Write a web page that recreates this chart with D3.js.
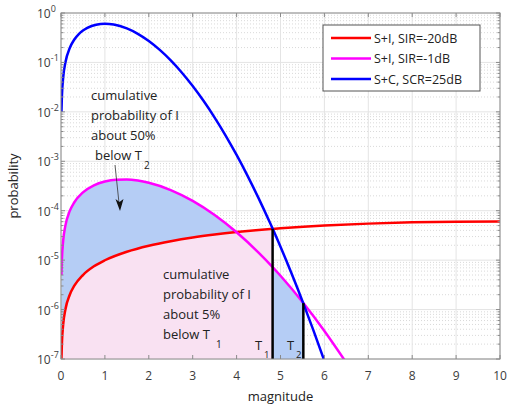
<!DOCTYPE html>
<html>
<head>
<meta charset="utf-8">
<script src="https://cdn.jsdelivr.net/npm/d3@7"></script>
<style>
  body { margin: 0; background: #fff; }
  svg text { font-family: "Open Sans", "Noto Sans", sans-serif; }
</style>
</head>
<body>
<svg id="chart" width="508" height="407"></svg>
<script>
// ---- data -----------------------------------------------------------
const xTicks = [0, 1, 2, 3, 4, 5, 6, 7, 8, 9, 10];
const yExponents = [-7, -6, -5, -4, -3, -2, -1, 0];
const seriesNames = ["S+I, SIR=-20dB", "S+I, SIR=-1dB", "S+C, SCR=25dB"];
const seriesColors = ["#ff0000", "#ff00ff", "#0000ff"];

// S+I, SIR=-20dB
const sir20X = [0.01, 0.02, 0.05, 0.1, 0.2, 0.3, 0.5, 0.75, 1, 1.5, 2, 2.5, 3, 3.5, 4, 4.5, 4.82, 5, 5.52, 6, 7, 8, 9, 10];
const sir20Y = [1e-7, 2e-7, 5e-7, 1e-6, 2e-6, 3e-6, 5e-6, 7.5e-6, 9.95e-6, 1.48e-5, 1.96e-5, 2.42e-5, 2.87e-5, 3.29e-5, 3.69e-5, 4.07e-5, 4.29e-5, 4.41e-5, 4.74e-5, 5.01e-5, 5.48e-5, 5.81e-5, 6.0e-5, 6.07e-5];

// S+I, SIR=-1dB
const sir1X = [0.01, 0.02, 0.05, 0.1, 0.2, 0.3, 0.5, 0.75, 1, 1.25, 1.5, 1.75, 2, 2.5, 3, 3.5, 4, 4.5, 4.82, 5, 5.52, 6, 6.5];
const sir1Y = [5e-6, 1e-5, 2.5e-5, 4.99e-5, 9.9e-5, 1.467e-4, 2.35e-4, 3.26e-4, 3.89e-4, 4.23e-4, 4.27e-4, 4.07e-4, 3.68e-4, 2.62e-4, 1.58e-4, 8.18e-5, 3.66e-5, 1.42e-5, 7.24e-6, 4.83e-6, 1.36e-6, 3.7e-7, 8.4e-8];

// S+C, SCR=25dB
const scrX = [0.01, 0.02, 0.05, 0.1, 0.2, 0.3, 0.4, 0.5, 0.6, 0.8, 1, 1.2, 1.5, 1.75, 2, 2.25, 2.5, 2.75, 3, 3.25, 3.5, 3.75, 4, 4.25, 4.5, 4.75, 4.82, 5, 5.25, 5.52, 5.75, 6];
const scrY = [0.01, 0.02, 0.05, 0.0995, 0.196, 0.287, 0.369, 0.441, 0.501, 0.581, 0.6065, 0.584, 0.487, 0.379, 0.271, 0.179, 0.110, 0.0627, 0.0333, 0.01653, 0.00766, 0.003315, 1.342e-3, 5.08e-4, 1.80e-4, 5.98e-5, 4.35e-5, 1.86e-5, 5.43e-6, 1.336e-6, 3.80e-7, 9.14e-8];

// thresholds and where their markers stop
const T1 = 4.82, T2 = 5.52;
const T1Top = 4.3e-5, T2Top = 1.35e-6;

// ---- layout ---------------------------------------------------------
const svg = d3.select("#chart");
const L = 61, R = 500, T = 13, B = 359;
const x = d3.scaleLinear().domain([0, 10]).range([L, R]);
const y = d3.scaleLog().domain([1e-7, 1]).range([B, T]);

svg.append("defs").append("clipPath").attr("id", "plotClip")
  .append("rect").attr("x", L).attr("y", T).attr("width", R - L).attr("height", B - T);

const plot = svg.append("g");

// grid: minor dotted decades, major solid
const minorVals = [];
yExponents.slice(0, -1).forEach(e => {
  for (let k = 2; k <= 9; k++) minorVals.push(k * Math.pow(10, e));
});
plot.selectAll("line.minor").data(minorVals).join("line")
  .attr("x1", L).attr("x2", R)
  .attr("y1", d => y(d)).attr("y2", d => y(d))
  .attr("stroke", "#cfcfcf").attr("stroke-width", 0.8)
  .attr("stroke-dasharray", "1,2");
plot.selectAll("line.hmajor").data(yExponents).join("line")
  .attr("x1", L).attr("x2", R)
  .attr("y1", d => y(Math.pow(10, d))).attr("y2", d => y(Math.pow(10, d)))
  .attr("stroke", "#e4e4e4").attr("stroke-width", 1);
plot.selectAll("line.vmajor").data(xTicks).join("line")
  .attr("x1", d => x(d)).attr("x2", d => x(d))
  .attr("y1", T).attr("y2", B)
  .attr("stroke", "#e4e4e4").attr("stroke-width", 1);

// shaded regions
const toPts = (xs, ys) => xs.map((v, i) => [v, ys[i]]);
const sir20Pts = toPts(sir20X, sir20Y);
const sir1Pts = toPts(sir1X, sir1Y);
const scrPts = toPts(scrX, scrY);

const area = d3.area()
  .x(d => x(d[0])).y0(B).y1(d => y(d[1]))
  .curve(d3.curveMonotoneX);

const shade = svg.append("g").attr("clip-path", "url(#plotClip)");
shade.append("path")
  .datum(sir1Pts.filter(d => d[0] <= T2))
  .attr("d", area).attr("fill", "#b5cdf5");
shade.append("path")
  .datum(sir20Pts.filter(d => d[0] <= T1))
  .attr("d", area).attr("fill", "#f9e1f2");

// curves
const line = d3.line()
  .x(d => x(d[0])).y(d => y(d[1]))
  .curve(d3.curveMonotoneX);
const curves = svg.append("g").attr("clip-path", "url(#plotClip)");
[sir20Pts, sir1Pts, scrPts].forEach((pts, i) => {
  curves.append("path").datum(pts)
    .attr("d", line)
    .attr("fill", "none")
    .attr("stroke", seriesColors[i])
    .attr("stroke-width", 2.5)
    .attr("stroke-linejoin", "round");
});

// threshold markers
curves.selectAll("line.thr").data([[T1, T1Top], [T2, T2Top]]).join("line")
  .attr("x1", d => x(d[0])).attr("x2", d => x(d[0]))
  .attr("y1", B).attr("y2", d => y(d[1]))
  .attr("stroke", "#000").attr("stroke-width", 2.5);

// ---- axes -----------------------------------------------------------
const axisColor = "#8a8a8a";
const tickColor = "#3c3c3c";
const ax = svg.append("g");

ax.append("rect").attr("x", L).attr("y", T).attr("width", R - L).attr("height", B - T)
  .attr("fill", "none").attr("stroke", axisColor).attr("stroke-width", 1);

// x ticks (inside, bottom and top)
xTicks.forEach(v => {
  ax.append("line").attr("x1", x(v)).attr("x2", x(v)).attr("y1", B).attr("y2", B - 4)
    .attr("stroke", axisColor);
  ax.append("line").attr("x1", x(v)).attr("x2", x(v)).attr("y1", T).attr("y2", T + 4)
    .attr("stroke", axisColor);
});
ax.selectAll("text.xt").data(xTicks).join("text")
  .attr("x", d => x(d)).attr("y", 380)
  .attr("text-anchor", "middle").attr("font-size", 12).attr("fill", tickColor)
  .text(d => d);

// y ticks (major and minor, inside, left and right)
yExponents.forEach(e => {
  const yy = y(Math.pow(10, e));
  ax.append("line").attr("x1", L).attr("x2", L + 4).attr("y1", yy).attr("y2", yy).attr("stroke", axisColor);
  ax.append("line").attr("x1", R).attr("x2", R - 4).attr("y1", yy).attr("y2", yy).attr("stroke", axisColor);
});
minorVals.forEach(v => {
  const yy = y(v);
  ax.append("line").attr("x1", L).attr("x2", L + 2.5).attr("y1", yy).attr("y2", yy).attr("stroke", axisColor);
  ax.append("line").attr("x1", R).attr("x2", R - 2.5).attr("y1", yy).attr("y2", yy).attr("stroke", axisColor);
});
const ytl = ax.selectAll("text.yt").data(yExponents).join("text")
  .attr("x", 37).attr("y", d => y(Math.pow(10, d)) + 5)
  .attr("text-anchor", "start").attr("font-size", 12).attr("fill", tickColor);
ytl.append("tspan").text("10");
ytl.append("tspan").attr("dy", -6).attr("font-size", 9).text(d => d);

// axis titles
svg.append("text").attr("x", x(5)).attr("y", 401)
  .attr("text-anchor", "middle").attr("font-size", 13).attr("fill", "#222")
  .text("magnitude");
svg.append("text").attr("transform", `translate(18,${(T + B) / 2}) rotate(-90)`)
  .attr("text-anchor", "middle").attr("font-size", 13).attr("fill", "#222")
  .text("probability");

// ---- annotations ----------------------------------------------------
function block(x0, yFirst, lines, lastDx) {
  const g = svg.append("g").attr("font-size", 13).attr("fill", "#222");
  lines.forEach((s, i) => {
    g.append("text").attr("x", x0 + (i === lines.length - 1 ? lastDx : 0))
      .attr("y", yFirst + i * 20).text(s);
  });
  return g;
}
const noteA = block(91, 100, ["cumulative", "probability of I", "about 50%", "below T"], 4);
noteA.append("text").attr("x", 144).attr("y", 169).attr("font-size", 10).text("2");
const noteB = block(163, 279, ["cumulative", "probability of I", "about 5%", "below T"], 0);
noteB.append("text").attr("x", 216).attr("y", 348).attr("font-size", 10).text("1");

// arrow pointing into the blue region
svg.append("line").attr("x1", 115).attr("y1", 165).attr("x2", 119).attr("y2", 203)
  .attr("stroke", "#333").attr("stroke-width", 0.8);
svg.append("path")
  .attr("d", "M115.5,199 L120,211 L123.5,199 L119.5,202 Z")
  .attr("fill", "#111");

// threshold labels
svg.append("text").attr("x", 255).attr("y", 350).attr("font-size", 13).attr("fill", "#222").text("T");
svg.append("text").attr("x", 264).attr("y", 358).attr("font-size", 9.5).attr("fill", "#222").text("1");
svg.append("text").attr("x", 287).attr("y", 350).attr("font-size", 13).attr("fill", "#222").text("T");
svg.append("text").attr("x", 296).attr("y", 358).attr("font-size", 9.5).attr("fill", "#222").text("2");

// ---- legend ---------------------------------------------------------
const lg = svg.append("g");
lg.append("rect").attr("x", 323).attr("y", 25).attr("width", 157).attr("height", 66)
  .attr("fill", "#fff").attr("stroke", "#555").attr("stroke-width", 1);
seriesNames.forEach((name, i) => {
  const yy = 38 + i * 20.5;
  lg.append("line").attr("x1", 331).attr("x2", 371).attr("y1", yy).attr("y2", yy)
    .attr("stroke", seriesColors[i]).attr("stroke-width", 2.5);
  lg.append("text").attr("x", 374).attr("y", yy + 4.5).attr("font-size", 12.5)
    .attr("fill", "#222").text(name);
});
</script>
</body>
</html>
